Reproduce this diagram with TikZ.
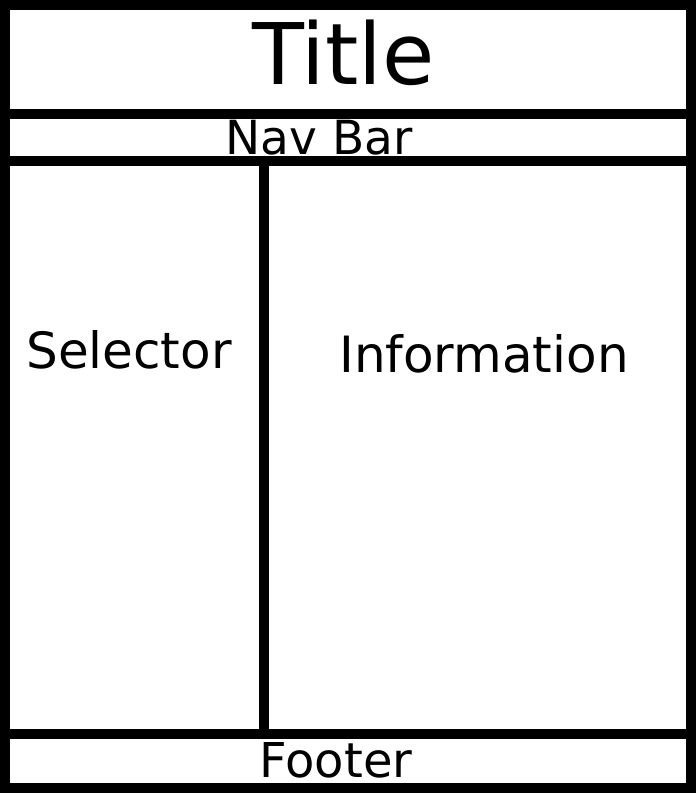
\documentclass[tikz,border=0pt]{standalone}
\usepackage{fontspec}
\setmainfont{DejaVu Sans}
\begin{document}
\begin{tikzpicture}[x=1pt,y=1pt,
        panel/.style={draw, line width=10pt},
        caption/.style={anchor=base, inner sep=0pt}]
    \useasboundingbox (0,0) rectangle (696,793);
    \fill[white] (0,0) rectangle (696,793);

    % header
    \draw[panel] (5,788) rectangle (691,679);
    \node[caption, font=\fontsize{85}{100}\selectfont] (title) at (343.5,708) {Title};

    \draw[panel] (5,679) rectangle (691,631.5);
    \node[caption, font=\fontsize{47}{56}\selectfont] (navbar) at (319,638.5) {Nav Bar};

    % body
    \draw[panel] (5,631.5) rectangle (263.5,58.5);
    \node[caption, font=\fontsize{50}{60}\selectfont] (selector) at (129,424) {Selector};

    \draw[panel] (263.5,631.5) rectangle (691,58.5);
    \node[caption, font=\fontsize{50}{60}\selectfont] (information) at (484,420) {Information};

    % footer
    \draw[panel] (5,58.5) rectangle (691,5);
    \node[caption, font=\fontsize{48}{58}\selectfont] (footer) at (336,15.5) {Footer};
\end{tikzpicture}
\end{document}
